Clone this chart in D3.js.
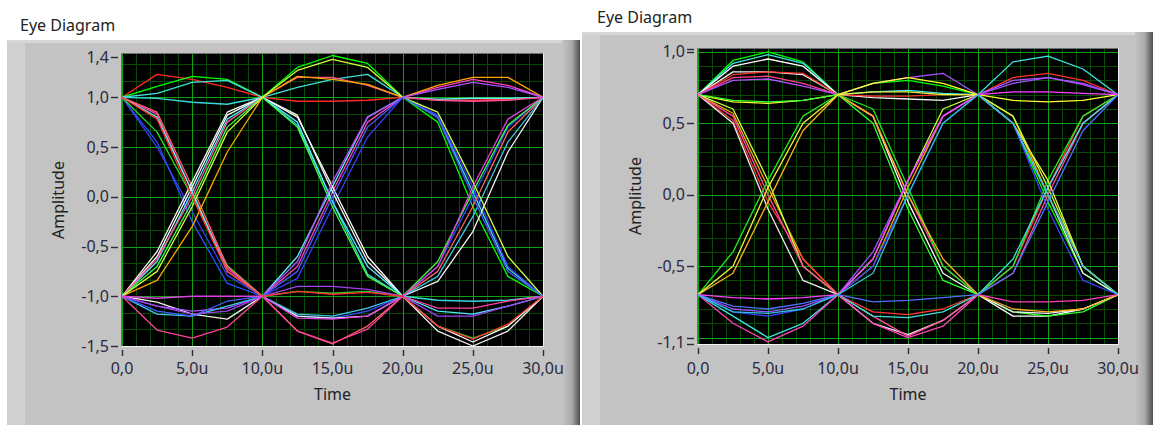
<!DOCTYPE html>
<html><head><meta charset="utf-8">
<script src="https://cdn.jsdelivr.net/npm/d3@7"></script>
<style>
body{margin:0;background:#fff;}
svg{display:block;font-family:"Segoe UI","Noto Sans",sans-serif;}
</style>
</head><body>
<svg id="c" width="1153" height="425"></svg>
<script>
// ---------------- DATA ----------------
const sampleTimes = [0,2.5,5,7.5,10,12.5,15,17.5,20,22.5,25,27.5,30];
const timeTicks = [0,5,10,15,20,25,30];
const timeTickLabels = ["0,0","5,0u","10,0u","15,0u","20,0u","25,0u","30,0u"];

const leftYTicks = [1.4,1,0.5,0,-0.5,-1,-1.5];
const leftYLabels = ["1,4","1,0","0,5","0,0","-0,5","-1,0","-1,5"];
const rightYTicks = [1.02,1,0.5,0,-0.5,-1,-1.045];
const rightYLabelValues = [1.0,0.5,0,-0.5,-1.033];
const rightYLabels = ["1,0","0,5","0,0","-0,5","-1,1"];

const leftTraceColors = ["#ff2828","#00ff00","#40e0d8","#38d8d8","#3c3cff","#2850ff","#20e020","#ff40c0",
  "#ff6060","#60f0f0","#ffffff","#f4f4f4","#50e8ff","#ff5090","#40ff40","#ffa500","#d0ff40","#eeeeee",
  "#b050ff","#40c8e8","#ff40a0","#4060ff","#a040f0","#e040e0","#ff3030"];
const leftTraces = [
  [1,1.23,1.18,1.1,1, 0.96,0.96,0.97,1, 0.97,0.97,0.98,1],
  [1,1.11,1.21,1.18,1, 1.3,1.42,1.34,1, 0.75,-0.1,-0.8,-1],
  [1,1.04,1.15,1.17,1, 1.1,1.18,1.23,1, 0.8,0.05,-0.72,-1],
  [1,0.99,0.95,0.93,1, 0.72,-0.05,-0.78,-1, -1.04,-1.05,-1.04,-1],
  [1,0.5,-0.15,-0.79,-1, -0.82,-0.1,0.6,1, 0.82,0.1,-0.7,-1],
  [1,0.55,-0.25,-0.87,-1, -1.2,-1.22,-1.15,-1, -0.7,0.0,0.7,1],
  [1,0.65,0.0,-0.69,-1, -0.95,-0.97,-0.95,-1, -1.3,-1.42,-1.3,-1],
  [1,0.83,0.05,-0.72,-1, -0.7,0.05,0.75,1, 1.1,1.18,1.12,1],
  [1,0.85,0.1,-0.7,-1, -1.35,-1.48,-1.3,-1, -0.75,-0.1,0.65,1],
  [1,0.8,0.05,-0.75,-1, -0.6,0.1,0.8,1, 0.98,0.99,0.99,1],
  [-1,-0.6,0.1,0.82,1, 0.8,0.1,-0.6,-1, -1.3,-1.46,-1.3,-1],
  [-1,-0.55,0.15,0.85,1, 0.82,0.05,-0.65,-1, -0.85,-0.35,0.45,1],
  [-1,-0.65,0.05,0.78,1, 0.75,-0.05,-0.7,-1, -1.15,-1.18,-1.1,-1],
  [-1,-0.62,0.0,0.75,1, 1.2,1.2,1.12,1, 0.97,0.96,0.97,1],
  [-1,-0.7,-0.05,0.7,1, 0.7,-0.1,-0.8,-1, -0.65,0.05,0.72,1],
  [-1,-0.84,-0.3,0.45,1, 1.21,1.18,1.13,1, 1.12,1.2,1.2,1],
  [-1,-0.75,-0.1,0.65,1, 1.27,1.38,1.3,1, 0.85,0.15,-0.6,-1],
  [-1,-1.06,-1.18,-1.23,-1, -1.2,-1.22,-1.2,-1, -1.35,-1.5,-1.35,-1],
  [-1,-1.1,-1.15,-1.12,-1, -0.65,0.15,0.8,1, 1.08,1.15,1.1,1],
  [-1,-1.18,-1.2,-1.1,-1, -1.18,-1.2,-1.12,-1, -0.8,-0.2,0.55,1],
  [-1,-1.34,-1.42,-1.31,-1, -1.35,-1.47,-1.33,-1, -1.12,-1.12,-1.05,-1],
  [-1,-1.15,-1.2,-1.05,-1, -0.75,0.0,0.7,1, 0.8,0.0,-0.75,-1],
  [-1,-1.1,-1.18,-1.15,-1, -0.9,-0.9,-0.93,-1, -1.2,-1.2,-1.1,-1],
  [-1,-1.02,-1.0,-1.0,-1, -1.22,-1.23,-1.2,-1, -0.7,0.1,0.78,1],
  [1,0.78,0.0,-0.75,-1, -0.95,-0.98,-0.96,-1, -1.3,-1.43,-1.28,-1]
];

const rightTraceColors = ["#00ff00","#40e8e8","#ffffff","#f4f4f4","#ff3030","#ff4090","#b050ff","#ffff30",
  "#30ff30","#ffa500","#ff3838","#c8ff40","#eeeeee","#ff50a0","#20e820","#ffb020","#f0f040","#4040ff",
  "#a050ff","#40e0e0","#ff40c0","#5070ff","#ff40ff","#30c0e0"];
const rightTraces = [
  [0.7,0.94,1.0,0.93,0.7, 0.78,0.8,0.76,0.7, 0.5,-0.05,-0.55,-0.7],
  [0.7,0.92,0.98,0.92,0.7, 0.72,0.73,0.71,0.7, 0.93,0.97,0.88,0.7],
  [0.7,0.9,0.95,0.9,0.7, 0.55,-0.05,-0.55,-0.7, -0.85,-0.85,-0.8,-0.7],
  [0.7,0.86,0.86,0.84,0.7, 0.68,0.67,0.66,0.7, 0.5,0.0,-0.55,-0.7],
  [0.7,0.84,0.86,0.85,0.7, 0.69,0.69,0.7,0.7, 0.82,0.85,0.8,0.7],
  [0.7,0.82,0.83,0.78,0.7, 0.55,0.0,-0.5,-0.7, -0.5,0.05,0.5,0.7],
  [0.7,0.8,0.81,0.76,0.7, 0.78,0.82,0.85,0.7, 0.8,0.82,0.77,0.7],
  [0.7,0.65,0.64,0.66,0.7, 0.78,0.82,0.78,0.7, 0.66,0.65,0.66,0.7],
  [0.7,0.66,0.65,0.66,0.7, 0.5,-0.1,-0.6,-0.7, -0.82,-0.85,-0.82,-0.7],
  [0.7,0.57,0.05,-0.45,-0.7, -0.5,0.05,0.55,0.7, 0.55,0.0,-0.5,-0.7],
  [0.7,0.52,-0.05,-0.45,-0.7, -0.82,-0.84,-0.8,-0.7, -0.5,0.05,0.55,0.7],
  [0.7,0.6,0.1,-0.5,-0.7, -0.45,0.1,0.6,0.7, 0.55,0.05,-0.5,-0.7],
  [0.7,0.5,-0.1,-0.6,-0.7, -0.9,-0.98,-0.88,-0.7, -0.82,-0.83,-0.8,-0.7],
  [0.7,0.55,0.0,-0.5,-0.7, -0.85,-0.99,-0.88,-0.7, -0.55,0.0,0.5,0.7],
  [-0.7,-0.4,0.1,0.55,0.7, 0.6,0.05,-0.5,-0.7, -0.5,0.1,0.55,0.7],
  [-0.7,-0.55,-0.05,0.45,0.7, 0.55,0.0,-0.45,-0.7, -0.8,-0.82,-0.8,-0.7],
  [-0.7,-0.5,0.05,0.5,0.7, 0.72,0.72,0.7,0.7, 0.5,0.1,-0.5,-0.7],
  [-0.7,-0.82,-0.85,-0.8,-0.7, -0.5,0.0,0.5,0.7, 0.5,-0.1,-0.6,-0.7],
  [-0.7,-0.8,-0.82,-0.78,-0.7, -0.4,0.1,0.55,0.7, 0.78,0.82,0.78,0.7],
  [-0.7,-0.85,-1.0,-0.9,-0.7, -0.85,-0.86,-0.82,-0.7, -0.45,0.05,0.5,0.7],
  [-0.7,-0.9,-1.03,-0.92,-0.7, -0.9,-1.0,-0.92,-0.7, -0.75,-0.75,-0.74,-0.7],
  [-0.7,-0.78,-0.8,-0.76,-0.7, -0.75,-0.74,-0.72,-0.7, -0.55,-0.05,0.45,0.7],
  [-0.7,-0.72,-0.73,-0.72,-0.7, -0.45,0.1,0.55,0.7, 0.72,0.72,0.71,0.7],
  [-0.7,-0.82,-0.83,-0.8,-0.7, -0.55,0.0,0.5,0.7, 0.5,0.0,-0.5,-0.7]
];

// ---------------- DRAW ----------------
const svg = d3.select("#c");
const defs = svg.append("defs");
function edgeGrad(id){
  const g = defs.append("linearGradient").attr("id",id).attr("x1","0").attr("x2","1").attr("y1","0").attr("y2","0");
  g.append("stop").attr("offset","0%").attr("stop-color","#c4c4c4");
  g.append("stop").attr("offset","55%").attr("stop-color","#a9a9a9");
  g.append("stop").attr("offset","100%").attr("stop-color","#4e4e4e");
}
edgeGrad("edgeL"); edgeGrad("edgeR");

function drawPanel(cfg){
  const P = cfg.panel, A = cfg.plot;
  const g = svg.append("g");
  g.append("rect").attr("x",P.x).attr("y",P.y).attr("width",P.w).attr("height",P.h).attr("fill","#c3c3c3");
  g.append("rect").attr("x",P.x).attr("y",P.y).attr("width",18).attr("height",P.h).attr("fill","#d0d0d0");
  g.append("rect").attr("x",P.x).attr("y",P.y).attr("width",P.w).attr("height",3).attr("fill","#d6d6d6");
  g.append("rect").attr("x",P.x+P.w-18).attr("y",P.y).attr("width",18).attr("height",P.h).attr("fill","url(#"+cfg.grad+")");
  svg.append("text").attr("x",cfg.title.x).attr("y",cfg.title.y).attr("font-size",16).attr("fill","#222")
     .text("Eye Diagram");

  const x = d3.scaleLinear().domain([0,30]).range([A.x, A.x+A.w]);
  const y = d3.scaleLinear().domain(cfg.yDomain).range([A.y+A.h, A.y]);

  g.append("rect").attr("x",A.x).attr("y",A.y).attr("width",A.w).attr("height",A.h).attr("fill","#000");
  const clipId = cfg.grad+"clip";
  defs.append("clipPath").attr("id",clipId).append("rect").attr("x",A.x).attr("y",A.y).attr("width",A.w).attr("height",A.h);
  const pg = g.append("g").attr("clip-path","url(#"+clipId+")");

  const xMinor = d3.range(0,31,1).filter(v=>v%5!==0);
  const xMajor = d3.range(0,31,5);
  const yMinor = cfg.yMinor, yMajor = cfg.yMajor;
  const minC = "#064a06", majC = "#14a014";
  pg.selectAll(".vmin").data(xMinor).join("line").attr("x1",d=>Math.round(x(d))+0.5).attr("x2",d=>Math.round(x(d))+0.5)
    .attr("y1",A.y).attr("y2",A.y+A.h).attr("stroke",minC).attr("stroke-width",1).attr("shape-rendering","crispEdges");
  pg.selectAll(".hmin").data(yMinor).join("line").attr("y1",d=>Math.round(y(d))+0.5).attr("y2",d=>Math.round(y(d))+0.5)
    .attr("x1",A.x).attr("x2",A.x+A.w).attr("stroke",minC).attr("stroke-width",1).attr("shape-rendering","crispEdges");
  pg.selectAll(".vmaj").data(xMajor).join("line").attr("x1",d=>Math.round(x(d))+0.5).attr("x2",d=>Math.round(x(d))+0.5)
    .attr("y1",A.y).attr("y2",A.y+A.h).attr("stroke",majC).attr("stroke-width",1).attr("shape-rendering","crispEdges");
  pg.selectAll(".hmaj").data(yMajor).join("line").attr("y1",d=>Math.round(y(d))+0.5).attr("y2",d=>Math.round(y(d))+0.5)
    .attr("x1",A.x).attr("x2",A.x+A.w).attr("stroke",majC).attr("stroke-width",1).attr("shape-rendering","crispEdges");

  const line = d3.line().x((d,i)=>x(sampleTimes[i])).y(d=>y(d));
  pg.selectAll(".tr").data(cfg.traces).join("path").attr("d",d=>line(d)).attr("fill","none")
    .attr("stroke",(d,i)=>cfg.colors[i]).attr("stroke-width",1.3).attr("stroke-linejoin","round");

  g.append("line").attr("x1",A.x-0.5).attr("x2",A.x+A.w).attr("y1",A.y-0.5).attr("y2",A.y-0.5).attr("stroke","#707070");
  g.append("line").attr("x1",A.x-0.5).attr("x2",A.x-0.5).attr("y1",A.y-0.5).attr("y2",A.y+A.h).attr("stroke","#707070");
  g.append("line").attr("x1",A.x-0.5).attr("x2",A.x+A.w+0.5).attr("y1",A.y+A.h+0.5).attr("y2",A.y+A.h+0.5).attr("stroke","#f0f0f0");
  g.append("line").attr("x1",A.x+A.w+0.5).attr("x2",A.x+A.w+0.5).attr("y1",A.y-0.5).attr("y2",A.y+A.h+0.5).attr("stroke","#f0f0f0");

  g.selectAll(".yt").data(cfg.yTicks).join("line").attr("x1",A.x-11).attr("x2",A.x-4)
    .attr("y1",d=>Math.round(y(d))+0.5).attr("y2",d=>Math.round(y(d))+0.5).attr("stroke","#2a2a3a").attr("stroke-width",1.4);
  g.selectAll(".yl").data(cfg.yLabels).join("text").attr("x",A.x-13).attr("y",(d,i)=>y(cfg.yLabelValues[i])+5.5)
    .attr("text-anchor","end").attr("font-size",16).attr("fill","#2a2a40").text(d=>d);
  g.selectAll(".xt").data(timeTicks).join("line").attr("x1",d=>Math.round(x(d))+0.5).attr("x2",d=>Math.round(x(d))+0.5)
    .attr("y1",A.y+A.h+4).attr("y2",A.y+A.h+10).attr("stroke","#2a2a3a").attr("stroke-width",1.4);
  g.selectAll(".xl").data(timeTickLabels).join("text").attr("x",(d,i)=>x(timeTicks[i])).attr("y",374)
    .attr("text-anchor","middle").attr("font-size",16).attr("fill","#2a2a40").text(d=>d);
  g.append("text").attr("x",A.x+A.w/2).attr("y",400).attr("text-anchor","middle").attr("font-size",16)
    .attr("fill","#222").text("Time");
  g.append("text").attr("transform",`translate(${cfg.ampX},${cfg.ampY}) rotate(-90)`).attr("text-anchor","middle")
    .attr("font-size",16).attr("fill","#222").text("Amplitude");
}

const leftMinor = d3.range(-9,9).map(k=>k/6).filter(v=>Math.abs(v*2-Math.round(v*2))>1e-6);
drawPanel({
  panel:{x:7,y:40,w:573,h:385}, plot:{x:122,y:54,w:421,h:292}, grad:"edgeL",
  title:{x:20,y:31},
  yDomain:[-1.5,1.435], yTicks:leftYTicks, yLabels:leftYLabels, yLabelValues:leftYTicks,
  yMinor:leftMinor, yMajor:[1,0.5,0,-0.5,-1],
  traces:leftTraces, colors:leftTraceColors, ampX:64, ampY:200
});
const rightMinor = d3.range(-10,11).map(k=>k/10).filter(v=>Math.abs(v*2-Math.round(v*2))>1e-6);
drawPanel({
  panel:{x:582,y:32,w:571,h:393}, plot:{x:698,y:49,w:420,h:295}, grad:"edgeR",
  title:{x:597,y:23},
  yDomain:[-1.045,1.02], yTicks:rightYTicks, yLabels:rightYLabels, yLabelValues:rightYLabelValues,
  yMinor:rightMinor, yMajor:[1,0.5,0,-0.5,-1],
  traces:rightTraces, colors:rightTraceColors, ampX:641, ampY:196
});
</script>
</body></html>
